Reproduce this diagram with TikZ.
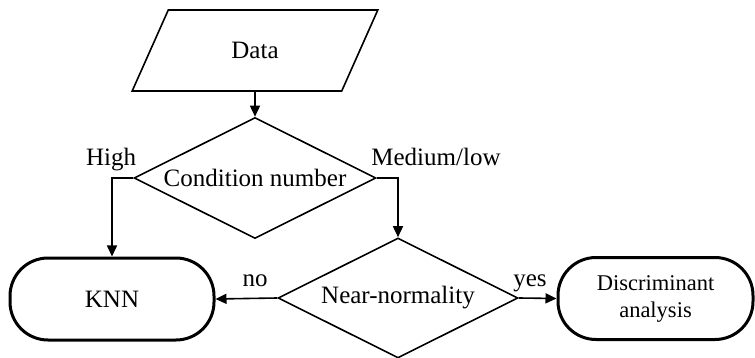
\documentclass[tikz,border=0pt]{standalone}
\usepackage{fontspec}
\setmainfont{Liberation Serif}
\usetikzlibrary{shapes.geometric,arrows.meta}
\begin{document}
\begin{tikzpicture}[x=1pt,y=-1pt,
  thinline/.style={line width=1.6pt},
  arr/.style={thinline,-{Triangle[length=11pt,width=10pt]}},
  txt/.style={font=\fontsize{25}{30}\selectfont},
  dec/.style={diamond,draw,thinline,aspect=2,inner sep=0pt,minimum width=242pt,minimum height=121pt,txt},
  term/.style={rectangle,draw,line width=3pt,rounded corners=38pt,minimum height=82pt,align=center},
  lbl/.style={txt,inner sep=0pt,anchor=base}]
\useasboundingbox[fill=white] (0,0) rectangle (755,358);
\node[trapezium,draw,thinline,trapezium left angle=64.3,trapezium right angle=115.7,
  trapezium stretches=true,minimum width=246pt,minimum height=81pt,txt] (data) at (255,50.5) {Data};
\node[dec] (d1) at (255,178) {Condition number};
\node[dec,minimum width=240pt,minimum height=120pt] (d2) at (398,298) {Near-normality};
\node[term,minimum width=204pt,txt] (knn) at (112,299) {KNN};
\node[term,minimum width=195pt,font=\fontsize{22.5}{27}\selectfont] (disc) at (655.5,298.5) {Discriminant\\analysis};
\draw[arr] (data.south) -- (d1.north);
\draw[arr] (d1.west) -| (knn.north);
\draw[arr] (d1.east) -| (d2.north);
\draw[arr] (d2.west) -- (knn.east);
\draw[arr] (d2.east) -- (disc.west);
\node[lbl] (high) at (111,166) {High};
\node[lbl] (med) at (436,166) {Medium/low};
\node[lbl] (no) at (255,286) {no};
\node[lbl] (yes) at (530,286) {yes};
\end{tikzpicture}
\end{document}
